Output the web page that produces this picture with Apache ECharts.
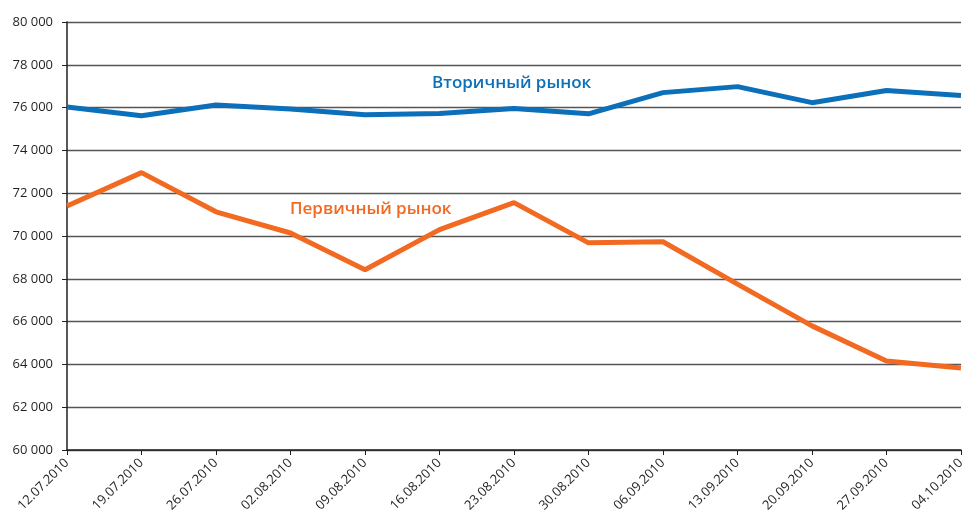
<!DOCTYPE html>
<html>
<head>
<meta charset="utf-8">
<script src="https://cdn.jsdelivr.net/npm/echarts@6/dist/echarts.min.js"></script>
<style>
  html, body { margin: 0; padding: 0; background: #fff; }
  #chart { width: 969px; height: 518px; }
</style>
</head>
<body>
<div id="chart"></div>
<script>
// даты (недели)
let dates = ['12.07.2010', '19.07.2010', '26.07.2010', '02.08.2010', '09.08.2010', '16.08.2010',
    '23.08.2010', '30.08.2010', '06.09.2010', '13.09.2010', '20.09.2010', '27.09.2010', '04.10.2010'];
// вторичный рынок
let secondary = [76030, 75620, 76120, 75930, 75670, 75720, 75960, 75710, 76700, 76980, 76230, 76800, 76570];
// первичный рынок
let primary = [71400, 72960, 71130, 70140, 68420, 70300, 71560, 69680, 69730, 67750, 65800, 64160, 63830];

let myChart = echarts.init(document.getElementById('chart'));

let fontFamily = '"Open Sans", "Noto Sans", sans-serif';

let option = {
    animation: false,
    grid: {
        left: 67,
        right: 8,
        top: 22,
        bottom: 68
    },
    xAxis: {
        type: 'category',
        data: dates,
        boundaryGap: false,
        axisLine: {lineStyle: {color: '#231f20', width: 1.5}},
        axisTick: {alignWithLabel: true, length: 5, lineStyle: {color: '#231f20'}},
        axisLabel: {
            rotate: 45,
            color: '#231f20',
            fontFamily: fontFamily,
            fontSize: 13,
            margin: 11,
            interval: 0
        },
        splitLine: {show: false}
    },
    yAxis: {
        type: 'value',
        min: 60000,
        max: 80000,
        interval: 2000,
        axisLine: {show: true, lineStyle: {color: '#231f20', width: 1.5}},
        axisTick: {show: true, length: 5, lineStyle: {color: '#231f20'}},
        axisLabel: {
            color: '#231f20',
            fontFamily: fontFamily,
            fontSize: 13,
            margin: 14,
            formatter: function (v) {
                return String(v).replace(/\B(?=(\d{3})+(?!\d))/g, ' ');
            }
        },
        splitLine: {lineStyle: {color: '#555', width: 1.3}}
    },
    series: [
        {
            name: 'Вторичный рынок',
            type: 'line',
            data: secondary,
            symbol: 'none',
            lineStyle: {color: '#0b6fba', width: 5}
        },
        {
            name: 'Первичный рынок',
            type: 'line',
            data: primary,
            symbol: 'none',
            lineStyle: {color: '#f26a21', width: 5}
        }
    ],
    graphic: [
        {
            type: 'text',
            left: 432,
            top: 75,
            style: {
                text: 'Вторичный рынок',
                fill: '#0b6fba',
                font: '600 17px ' + fontFamily
            }
        },
        {
            type: 'text',
            left: 290,
            top: 201,
            style: {
                text: 'Первичный рынок',
                fill: '#f26a21',
                font: '600 17px ' + fontFamily
            }
        }
    ]
};

myChart.setOption(option);
</script>
</body>
</html>
